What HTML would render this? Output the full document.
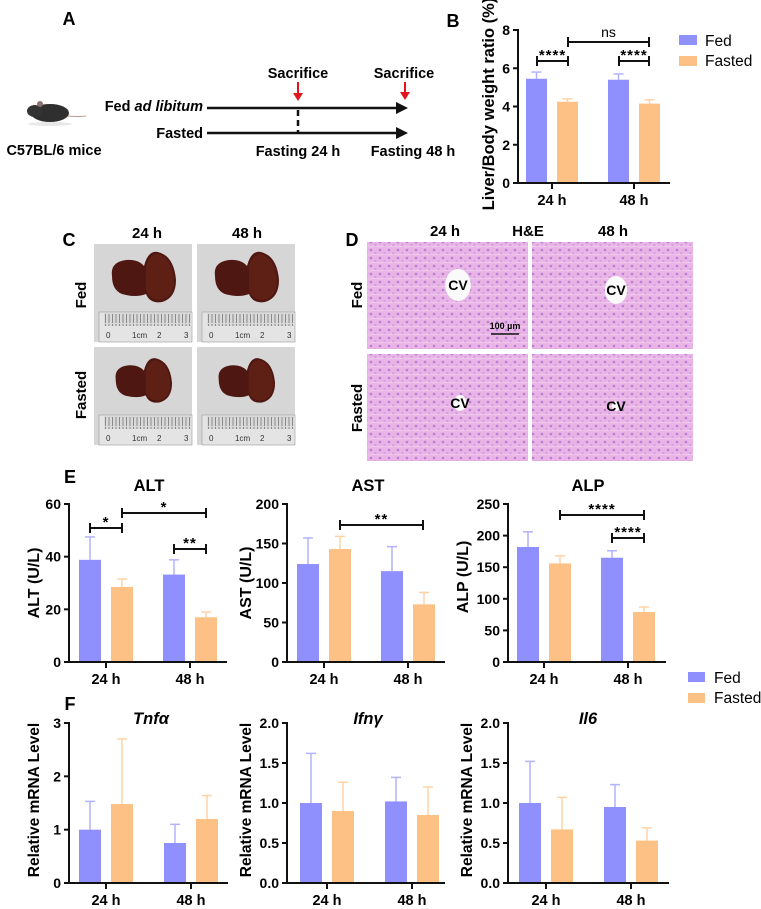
<!DOCTYPE html>
<html><head><meta charset="utf-8"><style>
html,body{margin:0;padding:0;background:#fff;}
svg{display:block;font-family:"Liberation Sans",Arial,sans-serif;}
.b{font-weight:bold;}
</style></head><body>
<svg id="fig" width="761" height="909" viewBox="0 0 761 909">
<defs>
<pattern id="hepat" width="9" height="8" patternUnits="userSpaceOnUse">
<rect width="9" height="8" fill="#e9b3e6"/>
<circle cx="2" cy="2" r="1.3" fill="#b57fd6"/>
<circle cx="6.5" cy="5.5" r="1.1" fill="#c58fdc"/>
<path d="M0 7 L9 6" stroke="#f6d8f2" stroke-width="0.7"/>
</pattern>
<pattern id="ruler" width="3.5" height="10" patternUnits="userSpaceOnUse">
<rect width="3.5" height="10" fill="#d9d9d9"/>
<line x1="1" y1="0" x2="1" y2="9" stroke="#555" stroke-width="0.6"/>
</pattern>
</defs>

<!-- Panel A -->
<text class="b" x="69" y="25" font-size="18" text-anchor="middle">A</text>
<g>
<ellipse cx="50" cy="113" rx="19" ry="9" fill="#2f2f2f"/>
<ellipse cx="35" cy="111" rx="8" ry="6" fill="#333"/>
<circle cx="40" cy="104" r="3" fill="#8a7070"/>
<path d="M68 116 Q78 117 86 116" stroke="#b89a90" stroke-width="1" fill="none"/>
<ellipse cx="50" cy="124" rx="22" ry="2" fill="#e8e8e8"/>
</g>
<text class="b" x="203" y="111" font-size="14.5" text-anchor="end">Fed <tspan font-style="italic">ad libitum</tspan></text>
<text class="b" x="203" y="138" font-size="14.5" text-anchor="end">Fasted</text>
<text class="b" x="54" y="155" font-size="14.5" text-anchor="middle">C57BL/6 mice</text>
<line x1="207" y1="108" x2="398" y2="108" stroke="#111" stroke-width="2.5"/>
<path d="M396 102 L408 108 L396 114 Z" fill="#111"/>
<line x1="207" y1="133" x2="398" y2="133" stroke="#111" stroke-width="2.5"/>
<path d="M396 127 L408 133 L396 139 Z" fill="#111"/>
<line x1="298" y1="110" x2="298" y2="133" stroke="#111" stroke-width="2.5" stroke-dasharray="6,4"/>
<text class="b" x="298" y="78" font-size="14.5" text-anchor="middle">Sacrifice</text>
<text class="b" x="404" y="78" font-size="14.5" text-anchor="middle">Sacrifice</text>
<g fill="#e3141c" stroke="#e3141c">
<line x1="298" y1="82" x2="298" y2="94" stroke-width="2"/>
<path d="M293 93 L303 93 L298 101 Z" stroke="none"/>
<line x1="405" y1="82" x2="405" y2="93" stroke-width="2"/>
<path d="M400 92 L410 92 L405 100 Z" stroke="none"/>
</g>
<text class="b" x="298" y="156" font-size="14.5" text-anchor="middle">Fasting 24 h</text>
<text class="b" x="413" y="156" font-size="14.5" text-anchor="middle">Fasting 48 h</text>

<!-- Panel B label & legend -->
<text class="b" x="453" y="27" font-size="18" text-anchor="middle">B</text>
<rect x="679" y="35" width="18" height="10" fill="#8f8ffd"/>
<text x="705" y="46" font-size="15.5">Fed</text>
<rect x="679" y="56" width="18" height="10" fill="#fdc185"/>
<text x="705" y="66" font-size="15.5">Fasted</text>

<!-- Panel C -->
<text class="b" x="69" y="246" font-size="18" text-anchor="middle">C</text>
<text class="b" x="147" y="238" font-size="15" text-anchor="middle">24 h</text>
<text class="b" x="247" y="238" font-size="15" text-anchor="middle">48 h</text>
<text class="b" font-size="15" text-anchor="middle" transform="translate(86,295) rotate(-90)">Fed</text>
<text class="b" font-size="15" text-anchor="middle" transform="translate(86,395) rotate(-90)">Fasted</text>
<g id="photos"></g>

<!-- Panel D -->
<text class="b" x="352" y="246" font-size="18" text-anchor="middle">D</text>
<text class="b" x="445" y="236" font-size="15" text-anchor="middle">24 h</text>
<text class="b" x="528" y="236" font-size="15" text-anchor="middle">H&amp;E</text>
<text class="b" x="613" y="236" font-size="15" text-anchor="middle">48 h</text>
<text class="b" font-size="15" text-anchor="middle" transform="translate(362,295) rotate(-90)">Fed</text>
<text class="b" font-size="15" text-anchor="middle" transform="translate(362,408) rotate(-90)">Fasted</text>
<g id="hegroup"></g>

<!-- Panel E/F labels -->
<text class="b" x="70" y="483" font-size="18" text-anchor="middle">E</text>
<text class="b" x="70" y="710" font-size="18" text-anchor="middle">F</text>
<rect x="688" y="672" width="17" height="10" fill="#8f8ffd"/>
<text x="714" y="683" font-size="15.5">Fed</text>
<rect x="688" y="693" width="17" height="10" fill="#fdc185"/>
<text x="714" y="703" font-size="15.5">Fasted</text>
<g id="charts"></g>
</svg>
<script>
// ---- data ----
var groups = ["24 h", "48 h"];
var ratioFed = [5.45, 5.4], ratioFedErr = [5.8, 5.7];
var ratioFasted = [4.25, 4.15], ratioFastedErr = [4.4, 4.35];
var ratioTicks = [0, 2, 4, 6, 8];
var altFed = [38.8, 33.2], altFedErr = [47.5, 38.8];
var altFasted = [28.5, 17], altFastedErr = [31.5, 19];
var altTicks = [0, 20, 40, 60];
var astFed = [124, 115], astFedErr = [157, 146];
var astFasted = [143, 73], astFastedErr = [159, 88];
var astTicks = [0, 50, 100, 150, 200];
var alpFed = [182, 165], alpFedErr = [206, 176];
var alpFasted = [156, 79], alpFastedErr = [168, 87];
var alpTicks = [0, 50, 100, 150, 200, 250];
var tnfFed = [1.0, 0.75], tnfFedErr = [1.53, 1.1];
var tnfFasted = [1.48, 1.2], tnfFastedErr = [2.7, 1.64];
var tnfTicks = [0, 1, 2, 3];
var ifnFed = [1.0, 1.02], ifnFedErr = [1.62, 1.32];
var ifnFasted = [0.9, 0.85], ifnFastedErr = [1.26, 1.2];
var il6Fed = [1.0, 0.95], il6FedErr = [1.52, 1.23];
var il6Fasted = [0.67, 0.53], il6FastedErr = [1.07, 0.69];
var mrnaTicks = [0, 0.5, 1.0, 1.5, 2.0];
var mrnaTickLabels = ["0.0", "0.5", "1.0", "1.5", "2.0"];

var NS = "http://www.w3.org/2000/svg";
function mk(parent, tag, attrs, txt) {
  var e = document.createElementNS(NS, tag);
  for (var k in attrs) e.setAttribute(k, attrs[k]);
  if (txt !== undefined) e.textContent = txt;
  parent.appendChild(e);
  return e;
}
var charts = document.getElementById("charts");

function chart(id, L, fed, fedErr, fas, fasErr, ticks, tickLabels, brackets) {
  var g = mk(charts, "g", {});
  
  
  var max = ticks[ticks.length - 1];
  function y(v) { return L.y0 - v / max * (L.y0 - L.yt); }
  function gx(i) { return L.c[i]; }
  for (var i = 0; i < groups.length; i++) {
    [[fed, fedErr, -1, "#8f8ffd", "#b3b3fd", "fed"], [fas, fasErr, 1, "#fdc185", "#fdd3a6", "fasted"]].forEach(function (s) {
      var cx = gx(i) + s[2] * L.off;
      var top = y(s[0][i]), et = y(s[1][i]);
      var bw = L.bw;
      var ebar = mk(g, "line", { x1: cx, y1: top, x2: cx, y2: et, stroke: s[4], "stroke-width": 1.5 });
      
      
      var cap = mk(g, "line", { x1: cx - 5, y1: et, x2: cx + 5, y2: et, stroke: s[4], "stroke-width": 1.5 });
      
      
      var r = mk(g, "rect", { x: cx - bw / 2, y: top, width: bw, height: L.y0 - top, fill: s[3] });
      
      
    });
  }
  var ya = mk(g, "line", { x1: L.ax, y1: L.yt - 1, x2: L.ax, y2: L.y0 + 1, stroke: "#111", "stroke-width": 2 });
  
  
  var xa = mk(g, "line", { x1: L.ax - 1, y1: L.y0, x2: L.xe, y2: L.y0, stroke: "#111", "stroke-width": 2 });
  
  
  ticks.forEach(function (t, k) {
    mk(g, "line", { x1: L.ax - 5, y1: y(t), x2: L.ax, y2: y(t), stroke: "#111", "stroke-width": 2 });
    var tl = mk(g, "text", { x: L.ax - 8, y: y(t) + 5, "font-size": 14, "font-weight": "bold", "text-anchor": "end" }, tickLabels ? tickLabels[k] : String(t));
    
    
  });
  groups.forEach(function (c, i) {
    mk(g, "line", { x1: gx(i), y1: L.y0, x2: gx(i), y2: L.y0 + 6, stroke: "#111", "stroke-width": 2 });
    var xl = mk(g, "text", { x: gx(i), y: L.y0 + 22, "font-size": 14.5, "font-weight": "bold", "text-anchor": "middle" }, c);
    
    
  });
  var yt = mk(g, "text", { "font-size": L.tfs || 16, "font-weight": "bold", "text-anchor": "middle", transform: "translate(" + L.tx + "," + L.ty + ") rotate(-90)" }, L.ytitle);
  
  
  if (L.title) {
    var tt = mk(g, "text", { x: L.titx, y: L.tity, "font-size": 16.5, "font-weight": "bold", "text-anchor": "middle", "font-style": L.italic ? "italic" : "normal" }, L.title);
    
    
  }
  (brackets || []).forEach(function (b) {
    var bg = mk(g, "g", {});
    
    
    mk(bg, "line", { x1: b[0], y1: b[2], x2: b[1], y2: b[2], stroke: "#111", "stroke-width": 2 });
    mk(bg, "line", { x1: b[0], y1: b[2] - 5, x2: b[0], y2: b[2] + 5, stroke: "#111", "stroke-width": 2 });
    mk(bg, "line", { x1: b[1], y1: b[2] - 5, x2: b[1], y2: b[2] + 5, stroke: "#111", "stroke-width": 2 });
    mk(bg, "text", { x: (b[0] + b[1]) / 2, y: b[2] - (b[3] === "ns" ? 5 : 1), "font-size": b[3] === "ns" ? 14 : 15, "font-weight": b[3] === "ns" ? "normal" : "bold", "text-anchor": "middle", "letter-spacing": b[3] === "ns" ? 0 : 1 }, b[3]);
  });
}

chart("liver-ratio", { ax: 518, y0: 183, yt: 30, xe: 670, c: [552, 634], off: 15.5, bw: 21, ytitle: "Liver/Body weight ratio (%)", tx: 494, ty: 104, tfs: 16.5 },
  ratioFed, ratioFedErr, ratioFasted, ratioFastedErr, ratioTicks, null,
  [[537, 568, 61, "****"], [568, 649, 42, "ns"], [619, 649, 61, "****"]]);

chart("alt", { ax: 69, y0: 662, yt: 504, xe: 227, c: [106, 190], off: 16, bw: 22, ytitle: "ALT (U/L)", tx: 39, ty: 583, title: "ALT", titx: 149, tity: 491 },
  altFed, altFedErr, altFasted, altFastedErr, altTicks, null,
  [[90, 122, 528, "*"], [122, 206, 513, "*"], [174, 206, 549, "**"]]);
chart("ast", { ax: 287, y0: 662, yt: 504, xe: 445, c: [324, 408], off: 16, bw: 22, ytitle: "AST (U/L)", tx: 251, ty: 583, title: "AST", titx: 368, tity: 491 },
  astFed, astFedErr, astFasted, astFastedErr, astTicks, null,
  [[340, 423, 525, "**"]]);
chart("alp", { ax: 508, y0: 662, yt: 504, xe: 666, c: [544, 628], off: 16, bw: 22, ytitle: "ALP (U/L)", tx: 468, ty: 577, title: "ALP", titx: 588, tity: 491 },
  alpFed, alpFedErr, alpFasted, alpFastedErr, alpTicks, null,
  [[560, 644, 515, "****"], [612, 644, 538, "****"]]);

chart("tnfa", { ax: 69, y0: 883, yt: 723, xe: 228, c: [106, 191], off: 16, bw: 22, ytitle: "Relative mRNA Level", tx: 39, ty: 800, tfs: 15.5, title: "Tnfα", titx: 151, tity: 724, italic: true },
  tnfFed, tnfFedErr, tnfFasted, tnfFastedErr, tnfTicks, null, []);
chart("ifng", { ax: 287, y0: 883, yt: 723, xe: 445, c: [327, 412], off: 16, bw: 22, ytitle: "Relative mRNA Level", tx: 251, ty: 800, tfs: 15.5, title: "Ifnγ", titx: 368, tity: 724, italic: true },
  ifnFed, ifnFedErr, ifnFasted, ifnFastedErr, mrnaTicks, mrnaTickLabels, []);
chart("il6", { ax: 508, y0: 883, yt: 723, xe: 669, c: [546, 631], off: 16, bw: 22, ytitle: "Relative mRNA Level", tx: 472, ty: 800, tfs: 15.5, title: "Il6", titx: 588, tity: 724, italic: true },
  il6Fed, il6FedErr, il6Fasted, il6FastedErr, mrnaTicks, mrnaTickLabels, []);

// photos (panel C)
var ph = document.getElementById("photos");
[[94, 244, "fed-24h"], [197, 244, "fed-48h"], [94, 347, "fasted-24h"], [197, 347, "fasted-48h"]].forEach(function (p) {
  var g = mk(ph, "g", { transform: "translate(" + p[0] + "," + p[1] + ")" });
  
  
  mk(g, "rect", { width: 98, height: 98, fill: "#d6d6d6" });
  var s = p[2].indexOf("fasted") === 0 ? 0.88 : 1;
  mk(g, "g", { transform: "translate(49,36) scale(" + s + ") translate(-49,-36)" }).innerHTML =
    '<path d="M18 32 Q16 18 32 16 Q44 15 50 22 Q54 6 64 8 Q80 12 82 36 Q82 54 68 58 Q56 60 52 50 Q42 54 28 50 Q18 46 18 32 Z" fill="#4e1712"/>' +
    '<path d="M52 22 Q56 10 64 10 Q78 14 80 36 Q80 54 66 56 Q56 56 52 46 Z" fill="#5e2015"/>';
  mk(g, "rect", { x: 5, y: 68, width: 93, height: 30, fill: "#e4e4e4", stroke: "#999", "stroke-width": 0.6 });
  mk(g, "rect", { x: 10, y: 69, width: 88, height: 13, fill: "url(#ruler)" });
  mk(g, "text", { x: 12, y: 94, "font-size": 8, fill: "#333" }, "0");
  mk(g, "text", { x: 38, y: 94, "font-size": 8, fill: "#333" }, "1cm");
  mk(g, "text", { x: 63, y: 94, "font-size": 8, fill: "#333" }, "2");
  mk(g, "text", { x: 90, y: 94, "font-size": 8, fill: "#333" }, "3");
});
// H&E (panel D)
var he = document.getElementById("hegroup");
[[367, 242, 458, 285, 16, "fed-24h"], [532, 242, 616, 290, 14, "fed-48h"], [367, 354, 460, 403, 8, "fasted-24h"], [532, 354, 616, 406, 5, "fasted-48h"]].forEach(function (p) {
  var g = mk(he, "g", {});
  
  
  mk(g, "rect", { x: p[0], y: p[1], width: 161, height: 107, fill: "url(#hepat)" });
  mk(g, "ellipse", { cx: p[2], cy: p[3], rx: p[4] * 0.8, ry: p[4], fill: "#fafafa" });
  mk(g, "text", { x: p[2], y: p[3] + 5, "font-size": 14, "font-weight": "bold", "text-anchor": "middle" }, "CV");
});
var sb = mk(he, "g", {});


mk(sb, "text", { x: 505, y: 329, "font-size": 9, "font-weight": "bold", "text-anchor": "middle" }, "100 µm");
mk(sb, "line", { x1: 491, y1: 334, x2: 519, y2: 334, stroke: "#111", "stroke-width": 1.5 });
</script>
</body></html>
